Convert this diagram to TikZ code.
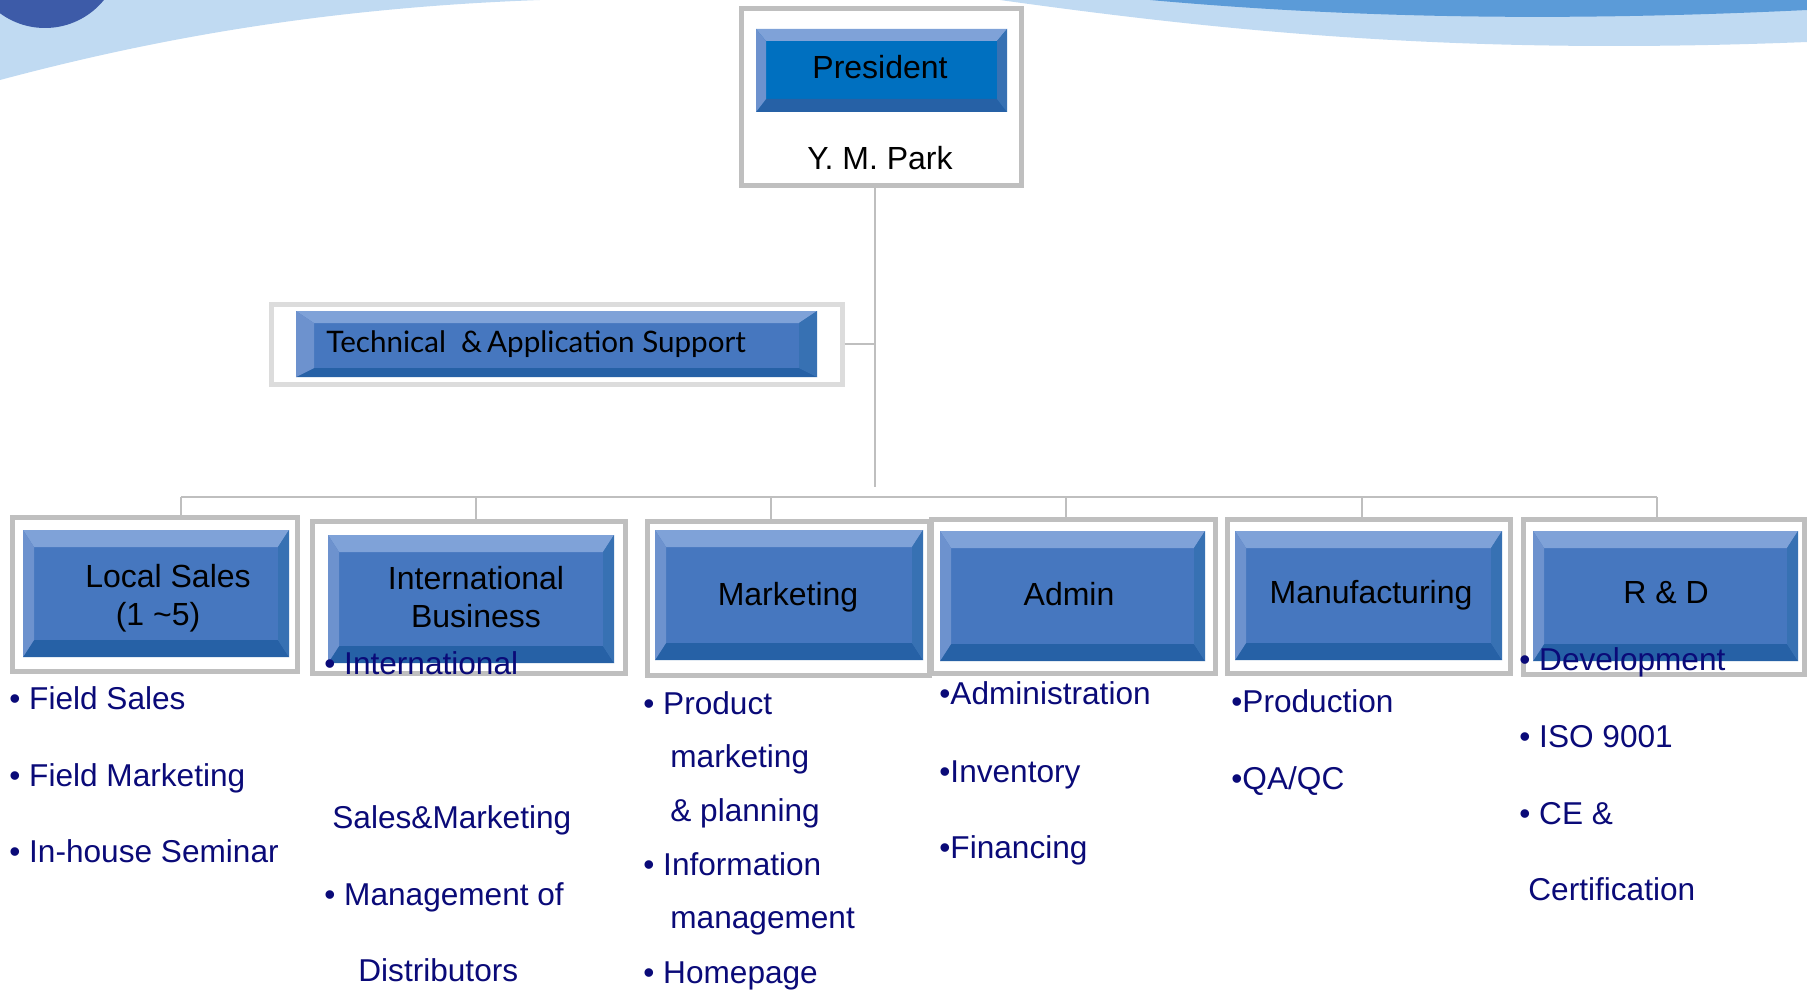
\documentclass[tikz,border=0pt]{standalone}
\usepackage{fontspec}
\setmainfont{Liberation Sans}
\newfontfamily\techfont{Lato}
\usetikzlibrary{fit}
\definecolor{frameg}{HTML}{BFBFBF}
\definecolor{framel}{HTML}{DCDCDC}
\definecolor{face}{HTML}{4677BF}
\definecolor{presface}{HTML}{0070C0}
\definecolor{bvtop}{HTML}{7FA2D8}
\definecolor{bvleft}{HTML}{6D92CE}
\definecolor{bvbot}{HTML}{2661A6}
\definecolor{bvright}{HTML}{3771B3}
\definecolor{navy}{HTML}{0A0A78}
\definecolor{skyl}{HTML}{C0DAF2}
\definecolor{skym}{HTML}{5B9BD8}
\definecolor{circ}{HTML}{3D5BA8}
\definecolor{connc}{HTML}{BFBFBF}
\newcommand\bevbtn[8]{%
  \fill[#5] (#1,#2) rectangle (#3,#4);
  \fill[bvtop] (#1,#2) -- (#3,#2) -- ({#3-#8},{#2+#6}) -- ({#1+#8},{#2+#6}) -- cycle;
  \fill[bvbot] (#1,#4) -- (#3,#4) -- ({#3-#8},{#4-#7}) -- ({#1+#8},{#4-#7}) -- cycle;
  \fill[bvleft] (#1,#2) -- ({#1+#8},{#2+#6}) -- ({#1+#8},{#4-#7}) -- (#1,#4) -- cycle;
  \fill[bvright] (#3,#2) -- ({#3-#8},{#2+#6}) -- ({#3-#8},{#4-#7}) -- (#3,#4) -- cycle;
}
\tikzset{
  frame/.style={draw=frameg, line width=2.5pt, inner sep=0pt, fill=white},
  techframe/.style={draw=framel, line width=2.5pt, inner sep=0pt, fill=white},
  connline/.style={draw=connc, line width=1.2pt},
  title/.style={font=\fontsize{16}{19}\selectfont, text=black, inner sep=0pt, anchor=base, yshift=1pt},
  item/.style={font=\fontsize{15.8}{18}\selectfont, text=navy, inner sep=0pt, anchor=base west, yshift=1pt},
}
\begin{document}
\begin{tikzpicture}[x=0.5pt,y=-0.5pt]
\useasboundingbox (0,0) rectangle (1807,995);
% background decoration
\begin{scope}
\clip (0,0) rectangle (1807,995);
\fill[skyl] (0,0) -- (0,80) .. controls (150,40) and (320,8) .. (540,0) -- cycle;
\fill[circ] (45,-48) circle[radius=38pt];
\fill[skyl] (1000,0) .. controls (1250,35) and (1480,55) .. (1807,42) -- (1807,0) -- cycle;
\fill[skym] (1150,0) .. controls (1350,18) and (1560,22) .. (1807,10) -- (1807,0) -- cycle;
\end{scope}

% frames
\node[frame, fit={(741,9) (1021,185)}] (pres) {};
\node[techframe, fit={(271,304) (842,384)}] (tech) {};
\node[frame, fit={(12,517) (297,671)}] (d1) {};
\node[frame, fit={(312,521) (625,673)}] (d2) {};
\node[frame, fit={(647,521) (929,675)}] (d3) {};
\node[frame, fit={(931,519) (1215,673)}] (d4) {};
\node[frame, fit={(1227,519) (1510,673)}] (d5) {};
\node[frame, fit={(1523,519) (1804,674)}] (d6) {};

% connectors
\coordinate (tk) at (875,487);
\coordinate (bL) at (181,497);
\coordinate (bR) at (1657,497);
\coordinate (b1) at (181,497);
\coordinate (b2) at (476,497);
\coordinate (b3) at (771,497);
\coordinate (b4) at (1066,497);
\coordinate (b5) at (1362,497);
\coordinate (b6) at (1657,497);
\draw[connline] (tk |- pres.south) -- (tk);
\draw[connline] (tech.east) -- (tech.east -| tk);
\draw[connline] (bL) -- (bR);
\draw[connline] (b1) -- (b1 |- d1.north);
\draw[connline] (b2) -- (b2 |- d2.north);
\draw[connline] (b3) -- (b3 |- d3.north);
\draw[connline] (b4) -- (b4 |- d4.north);
\draw[connline] (b5) -- (b5 |- d5.north);
\draw[connline] (b6) -- (b6 |- d6.north);

% buttons
\bevbtn{756}{29}{1007}{112}{presface}{12}{13}{10}
\bevbtn{296}{311}{817}{377}{face}{12}{9}{18}
\bevbtn{23}{530}{289}{657}{face}{17}{17}{11}
\bevbtn{328}{535}{614}{663}{face}{17}{17}{11}
\bevbtn{655}{530}{923}{660}{face}{17}{17}{11}
\bevbtn{940}{531}{1205}{661}{face}{17}{17}{11}
\bevbtn{1235}{531}{1502}{660}{face}{17}{17}{11}
\bevbtn{1533}{531}{1798}{661}{face}{17}{17}{11}

% titles
\node[title] (tpres) at (880,81) {President};
\node[title] (tname) at (880,171) {Y. M. Park};
\node[inner sep=0pt, anchor=base west, yshift=0.5pt, font=\techfont\fontsize{14.8}{17}\selectfont] (ttech) at (326,353) {Technical\ \ \&\,Application Support};
\node[title] (t1a) at (168,589) {Local Sales};
\node[title] (t1b) at (158,627) {(1 \textasciitilde5)};
\node[title] (t2a) at (476,591) {International};
\node[title] (t2b) at (476,629) {Business};
\node[title] (t3) at (788,607) {Marketing};
\node[title] (t4) at (1069,607) {Admin};
\node[title] (t5) at (1371,605) {Manufacturing};
\node[title] (t6) at (1666,605) {R \& D};

% items
\node[item] (i11) at (9,711) {• Field Sales};
\node[item] (i12) at (9,788) {• Field Marketing};
\node[item] (i13) at (9,864) {• In-house Seminar};

\node[item] (i21) at (324,676) {• International};
\node[item] (i22) at (332,830) {Sales\&Marketing};
\node[item] (i23) at (324,907) {• Management of};
\node[item] (i24) at (358,983) {Distributors};

\node[item] (i31) at (643,716) {• Product};
\node[item] (i32) at (670,769) {marketing};
\node[item] (i33) at (670,823) {\& planning};
\node[item] (i34) at (643,877) {• Information};
\node[item] (i35) at (670,930) {management};
\node[item] (i36) at (643,985) {• Homepage};

\node[item] (i41) at (939,706) {•Administration};
\node[item] (i42) at (939,784) {•Inventory};
\node[item] (i43) at (939,860) {•Financing};

\node[item] (i51) at (1231,714) {•Production};
\node[item] (i52) at (1231,791) {•QA/QC};

\node[item] (i61) at (1519,672) {• Development};
\node[item] (i62) at (1519,749) {• ISO 9001};
\node[item] (i63) at (1519,826) {• CE \&};
\node[item] (i64) at (1528,902) {Certification};
\end{tikzpicture}
\end{document}
